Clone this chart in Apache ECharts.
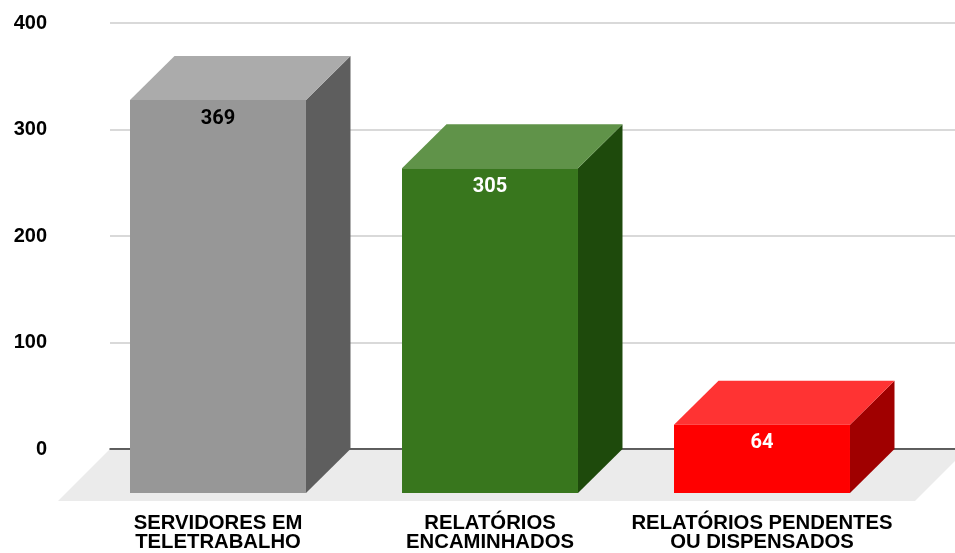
<!DOCTYPE html>
<html><head><meta charset="utf-8">
<style>html,body{margin:0;padding:0;background:#fff}#c{width:955px;height:553px}</style>
<script src="https://cdn.jsdelivr.net/npm/echarts@6/dist/echarts.min.js"></script>
</head><body><div id="c"></div>
<script>
const categories = ['SERVIDORES EM\nTELETRABALHO', 'RELATÓRIOS\nENCAMINHADOS', 'RELATÓRIOS PENDENTES\nOU DISPENSADOS'];
const values = [369, 305, 64];
const frontColors = ['#979797', '#38761d', '#ff0000'];
const topColors = ['#ababab', '#609349', '#ff3333'];
const sideColors = ['#5e5e5e', '#1e4a0c', '#a00000'];
const valueLabelColors = ['#000000', '#ffffff', '#ffffff'];
const yTicks = {min: 0, max: 400, interval: 100};
const DEPTH_X = 44.5, DEPTH_Y = 44, FLOOR_DY = 52, BAR_RATIO = 0.647;

const chart = echarts.init(document.getElementById('c'), null, {renderer: 'canvas'});

function renderBar(params, api) {
  const i = api.value(0);
  const p = api.coord([i, api.value(1)]);
  const base = api.coord([i, 0]);
  const w = api.size([1, 0])[0] * BAR_RATIO;
  const x0 = p[0] - w / 2, x1 = p[0] + w / 2;
  const yTop = p[1] + DEPTH_Y, yBot = base[1] + DEPTH_Y;
  return {type: 'group', children: [
    {type: 'polygon', shape: {points: [[x1, yTop], [x1 + DEPTH_X, p[1]], [x1 + DEPTH_X, base[1]], [x1, yBot]]},
      style: {fill: sideColors[i]}},
    {type: 'polygon', shape: {points: [[x0, yTop], [x0 + DEPTH_X, p[1]], [x1 + DEPTH_X, p[1]], [x1, yTop]]},
      style: {fill: topColors[i]}},
    {type: 'rect', shape: {x: x0, y: yTop, width: w, height: yBot - yTop},
      style: {fill: frontColors[i]}},
    {type: 'text', x: p[0], y: yTop + 18.5, z2: 10,
      style: {text: String(values[i]), fill: valueLabelColors[i], font: 'bold 20px Roboto', align: 'center', verticalAlign: 'middle'}}
  ]};
}

function renderFloor(params, api) {
  const y0 = api.coord([0, 0])[1];
  const cs = params.coordSys;
  const l = cs.x, r = cs.x + cs.width + 12;
  return {type: 'polygon', shape: {points: [[l, y0], [r, y0], [r - FLOOR_DY, y0 + FLOOR_DY], [l - FLOOR_DY, y0 + FLOOR_DY]]},
    style: {fill: '#ebebeb'}, silent: true};
}

chart.setOption({
  animation: false,
  backgroundColor: '#ffffff',
  grid: [
    {left: 110, right: 0, top: 23, bottom: 104},
    {left: 82, width: 816, top: 23, bottom: 104}
  ],
  xAxis: [
    {gridIndex: 0, type: 'value', min: 0, max: 1, axisLabel: {show: false}, axisTick: {show: false}, splitLine: {show: false},
      axisLine: {show: true, onZero: true, lineStyle: {color: '#333333', width: 1.5}}, z: 1},
    {gridIndex: 1, type: 'category', data: categories, axisTick: {show: false}, axisLine: {show: false},
      axisLabel: {interval: 0, margin: 65, color: '#000000', fontFamily: 'Liberation Sans', fontWeight: 'bold', fontSize: 20.3, lineHeight: 19, align: 'center', verticalAlign: 'top'}}
  ],
  yAxis: [
    {gridIndex: 0, type: 'value', min: yTicks.min, max: yTicks.max, interval: yTicks.interval,
      axisLine: {show: false}, axisTick: {show: false},
      splitLine: {show: true, lineStyle: {color: '#cccccc', width: 1.5}},
      axisLabel: {margin: 63, color: '#000000', fontFamily: 'Liberation Sans', fontWeight: 'bold', fontSize: 20, align: 'right'}},
    {gridIndex: 1, type: 'value', min: yTicks.min, max: yTicks.max, interval: yTicks.interval, show: false}
  ],
  series: [
    {type: 'custom', name: 'floor', coordinateSystem: 'cartesian2d', xAxisIndex: 0, yAxisIndex: 0, z: 1, clip: false, silent: true,
      data: [[0, 0]], renderItem: renderFloor},
    {type: 'custom', name: 'bars', coordinateSystem: 'cartesian2d', xAxisIndex: 1, yAxisIndex: 1, z: 3, clip: false,
      encode: {x: 0, y: 1}, data: values.map((v, i) => [i, v]), renderItem: renderBar}
  ]
});
</script></body></html>
